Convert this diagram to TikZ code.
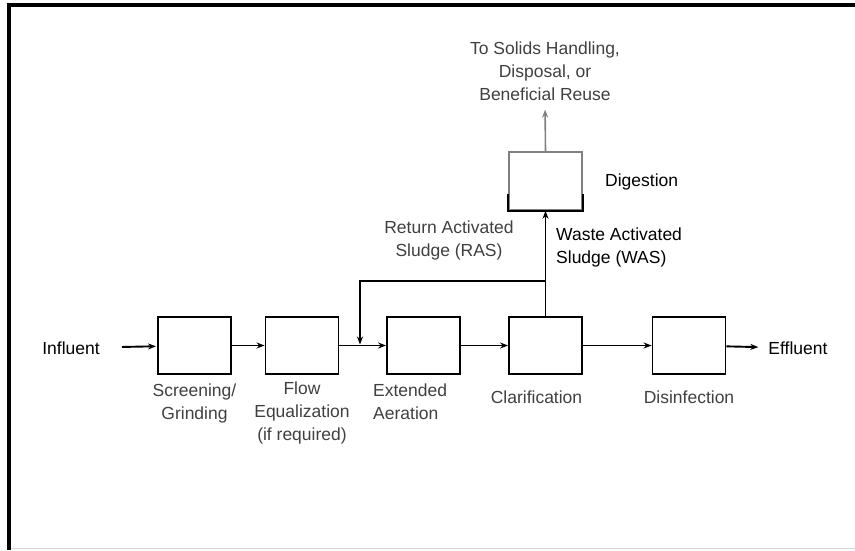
\documentclass[tikz,border=0pt]{standalone}
\usepackage{fontspec}
\setmainfont{Liberation Sans}
\usetikzlibrary{positioning,arrows.meta}

\begin{document}
\begin{tikzpicture}[>={Stealth[length=8pt,width=6pt]}, x=1pt, y=-1pt,
    every node/.style={font=\fontsize{17.5}{23}\selectfont},
    unit/.style={draw, line width=1.9pt, minimum width=73pt, minimum height=57pt, inner sep=0pt},
    caption/.style={inner sep=0pt, align=center, text=black!75},
    flow/.style={->, line width=1.9pt}
  ]
    \useasboundingbox (0,0) rectangle (855,550);
    \draw[black!15, line width=1pt] (9,548) -- (855,548);
    \draw[line width=4pt] (855,5) -- (9,5) -- (9,550);

    \node[unit] (screen)    at (194.5,345.5) {};
    \node[unit] (floweq)    at (302,345.5)   {};
    \node[unit] (aeration)  at (423.5,345.5) {};
    \node[unit] (clarifier) at (545.5,345.5) {};
    \node[unit] (disinfect) at (689,345.5)   {};
    \node[unit, draw=black!50, line width=1.6pt, minimum height=58pt] (digester) at (545.5,181) {};

    \node[inner sep=0pt] (influent) at (71,348)  {Influent};
    \node[inner sep=0pt] (effluent) at (798,348) {Effluent};
    \node[caption] (solids) at (545,71) {To Solids Handling,\\Disposal, or\\Beneficial Reuse};
    \node[inner sep=0pt, anchor=west] (digestion) at (605,182) {Digestion};
    \node[caption] (raslabel) at (449,240) {Return Activated\\Sludge (RAS)};
    \node[inner sep=0pt, align=left, anchor=west] (waslabel) at (556,247) {Waste Activated\\Sludge (WAS)};

    \node[caption, below=9pt of screen] {Screening/\\Grinding};
    \node[caption, below=7pt of floweq] {Flow\\Equalization\\(if required)};
    \node[caption, align=left, anchor=north west] at (373,384) {Extended\\Aeration};
    \node[caption, below=16pt of clarifier, xshift=-9pt] {Clarification};
    \node[caption, below=16pt of disinfect] {Disinfection};

    \coordinate (rasturn) at (545.5,281);
    \coordinate (junction) at (360,345.5);

    \draw[flow, shorten <=22pt, shorten >=1pt] (influent) -- (screen);
    \foreach \a/\b in {screen/floweq, aeration/clarifier, clarifier/disinfect}
      {\draw[flow] (\a) -- (\b);};
    \draw[flow] (floweq) -- (aeration);
    \draw[flow, shorten >=10pt] (disinfect) -- (effluent);
    \draw[line width=1.9pt] (clarifier.north) -- (rasturn);
    \draw[flow, shorten >=1pt] (rasturn) -| (junction);
    \draw[flow] (rasturn) -- (digester.south);
    \draw[flow, black!50, line width=1.6pt, shorten >=9pt] (digester.north) -- (solids.south);
    \draw[line width=2.4pt] ([yshift=17pt]digester.south west) -- (digester.south west)
      -- (digester.south east) -- ([yshift=17pt]digester.south east);
\end{tikzpicture}
\end{document}
